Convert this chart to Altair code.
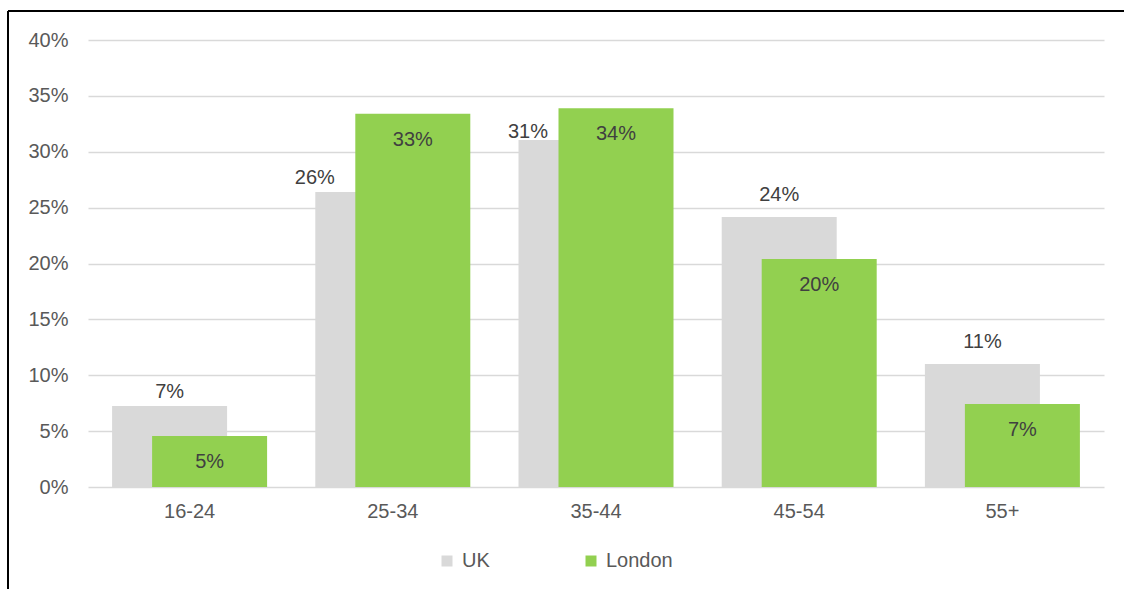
import altair as alt
import pandas as pd

categories = ["16-24", "25-34", "35-44", "45-54", "55+"]
uk = [0.0725, 0.264, 0.3105, 0.2415, 0.110]
london = [0.0456, 0.334, 0.339, 0.204, 0.0743]
series = ["UK", "London"]
colors = ["#D9D9D9", "#92D050"]
y_ticks = [0, 0.05, 0.10, 0.15, 0.20, 0.25, 0.30, 0.35, 0.40]

rows = []
for c, u, l in zip(categories, uk, london):
    rows.append({"age": c, "series": "UK", "value": u})
    rows.append({"age": c, "series": "London", "value": l})
df = pd.DataFrame(rows)

FONT = "Liberation Sans"

x = alt.X(
    "age:N", sort=categories,
    scale=alt.Scale(paddingInner=0, paddingOuter=0),
    axis=alt.Axis(title=None, labelAngle=0, domain=False, ticks=False,
                  labelPadding=14, labelFontSize=20, labelColor="#595959",
                  labelFont=FONT),
)
y = alt.Y(
    "value:Q",
    scale=alt.Scale(domain=[0, 0.4], nice=False),
    axis=alt.Axis(title=None, format=".0%", values=y_ticks, domain=False,
                  ticks=False, labelPadding=20, labelFontSize=20,
                  labelColor="#595959", labelFont=FONT, grid=True,
                  gridColor="#D9D9D9", gridWidth=1.5),
)
color = alt.Color(
    "series:N",
    scale=alt.Scale(domain=series, range=colors),
    legend=alt.Legend(
        title=None, orient="none", legendX=349, legendY=511,
        direction="horizontal", symbolType="square", symbolSize=121,
        symbolStrokeWidth=0, labelFontSize=20, labelColor="#595959",
        labelFont=FONT, labelOffset=5, columnPadding=91,
    ),
)

base = alt.Chart(df)

uk_bars = base.transform_filter("datum.series == 'UK'").mark_bar(
    width=115, xOffset=-20
).encode(x=x, y=y, color=color)

ldn_bars = base.transform_filter("datum.series == 'London'").mark_bar(
    width=115, xOffset=20
).encode(x=x, y=y, color=color)

txt = dict(font=FONT, fontSize=20, color="#404040", baseline="alphabetic")

# UK label placement per category (label style offsets, in pixels)
uk_label_style = {
    "16-24": (-20, -8),
    "25-34": (-78, -8),
    "35-44": (-68, -2),
    "45-54": (-20, -16),
    "55+": (-20, -16),
}

uk_lbls = []
for cat, (ddx, ddy) in uk_label_style.items():
    uk_lbls.append(
        base.transform_filter(
            f"datum.series == 'UK' && datum.age == '{cat}'"
        ).mark_text(dx=ddx, dy=ddy, **txt).encode(
            x=x, y=y, text=alt.Text("value:Q", format=".0%"))
    )

ldn_lbl = base.transform_filter("datum.series == 'London'").mark_text(
    dx=20, dy=32, **txt
).encode(x=x, y=y, text=alt.Text("value:Q", format=".0%"))

frame_left = alt.Chart(df).mark_rule(color="#000000", strokeWidth=1.5).encode(
    x=alt.value(-80), y=alt.value(-29), y2=alt.value(600))
frame_top = alt.Chart(df).mark_rule(color="#000000", strokeWidth=1.5).encode(
    x=alt.value(-80), x2=alt.value(1100), y=alt.value(-29))

chart = alt.layer(
    uk_bars, ldn_bars, *uk_lbls, ldn_lbl, frame_left, frame_top
).properties(
    width=1016, height=447,
    background="#FFFFFF",
    autosize=alt.AutoSizeParams(type="none"),
    padding={"left": 88, "top": 40, "right": 20, "bottom": 102},
).configure_view(strokeWidth=0, stroke="transparent")

chart.save("out.html", embed_options={"renderer": "svg", "actions": False})
